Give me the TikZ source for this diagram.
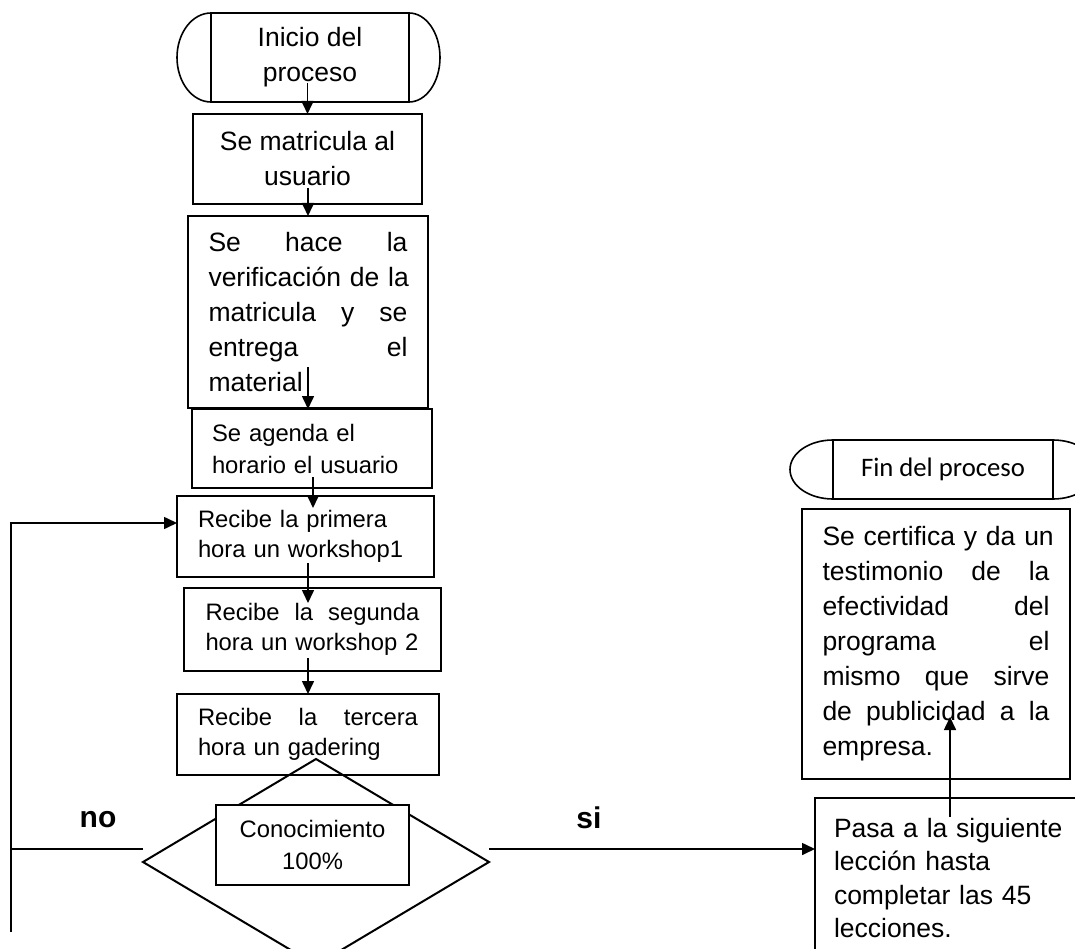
\documentclass[tikz,border=0pt]{standalone}
\usepackage{fontspec}
\setmainfont{Liberation Sans}
\newfontfamily\calibri{Carlito}
\usepackage{tikz}
\usetikzlibrary{arrows.meta,shapes.geometric}

\begin{document}
\begin{tikzpicture}[x=1pt, y=1pt,
	box/.style={draw, line width=2pt, inner sep=0pt, outer sep=0pt, fill=white},
	bigtxt/.style={font=\fontsize{26.5}{35}\selectfont},
	midtxt/.style={font=\fontsize{23.8}{30}\selectfont},
	lbl/.style={font=\fontsize{30}{36}\selectfont\bfseries},
	arr/.style={line width=1.6pt, -{Triangle[length=13pt,width=12pt]}}]
	\useasboundingbox (0,0) rectangle (1075,-949);
	\fill[white] (0,0) rectangle (1075,-949);
	\clip (0,0) rectangle (1075,-949);
	% inicio
	\node[box, bigtxt, align=center, minimum width=198, minimum height=89] (inicio) at (310,-57.5) {Inicio del\\proceso};
	\draw[line width=1.6pt] (inicio.north west) arc[start angle=90, end angle=270, x radius=34, y radius=44.5];
	\draw[line width=1.6pt] (inicio.north east) arc[start angle=90, end angle=-90, x radius=31, y radius=44.5];
	% main column
	\node[box, bigtxt, align=center, minimum width=229, minimum height=90] (matricula) at (307.5,-159) {Se matricula al\\usuario};
	\node[box, bigtxt, align=left, text width=199, minimum width=240, minimum height=192] (verif) at (308,-312)
		{Se\hfill hace\hfill la\\\mbox{verificación de la}\\matricula\hfill y\hfill se\\entrega\hfill el\\material};
	\node[box, font=\fontsize{23.8}{32}\selectfont, align=left, text width=200, minimum width=240, minimum height=79] (agenda) at (312,-448.5) {Se agenda el\\horario el usuario};
	\node[box, midtxt, align=left, text width=215, minimum width=257, minimum height=81] (primera) at (305.5,-536.5) {Recibe la primera\\hora un workshop1};
	\node[box, midtxt, align=left, text width=214, minimum width=257, minimum height=83] (segunda) at (312.5,-629.5) {Recibe\hfill la\hfill segunda\\hora un workshop 2};
	\node[box, midtxt, align=left, text width=220, minimum width=262, minimum height=81] (tercera) at (308,-734.5) {Recibe\hfill la\hfill tercera\\hora un gadering};
	% decision
	\node[diamond, draw, line width=2pt, inner sep=0pt, outer sep=0pt, minimum width=346, minimum height=206] (decision) at (316,-862) {};
	\node[box, font=\fontsize{23.8}{32}\selectfont, align=center, minimum width=193, minimum height=80] (conoc) at (312.5,-845) {Conocimiento\\100\%};
	% fin
	\node[box, font=\calibri\fontsize{26.7}{32}\selectfont, minimum width=220, minimum height=59] (fin) at (943,-469.5) {Fin del proceso};
	\draw[line width=1.6pt] (fin.north west) arc[start angle=90, end angle=270, x radius=43, y radius=29.5];
	\draw[line width=1.6pt] (fin.north east) arc[start angle=90, end angle=-90, x radius=43, y radius=29.5];
	\node[box, bigtxt, align=left, text width=227, minimum width=268, minimum height=270] (certifica) at (936,-644)
		{\mbox{Se certifica y da un}\\testimonio\hfill de\hfill la\\efectividad\hfill del\\programa\hfill el\\mismo\hfill que\hfill sirve\\de\hfill publicidad\hfill a\hfill la\\empresa.};
	\node[box, font=\fontsize{26.5}{33.5}\selectfont, align=left, text width=260, inner xsep=19pt, inner ysep=20pt, anchor=north west] (pasa) at (815,-798)
		{Pasa a la siguiente\\lección hasta\\completar las 45\\lecciones.};
	% arrows down the column
	\draw[arr] ([xshift=-2.5pt,yshift=19pt]inicio.south) -- (matricula.north);
	\draw[arr] ([xshift=0.5pt,yshift=16pt]matricula.south) -- (verif.north);
	\draw[arr] ([yshift=41pt]verif.south) -- ([xshift=-4pt]agenda.north);
	\draw[arr] ([xshift=1pt,yshift=11pt]agenda.south) -- ([xshift=7.5pt,yshift=-12pt]primera.north);
	\draw[arr] ([xshift=2.5pt,yshift=14pt]primera.south) -- ([xshift=-4.5pt,yshift=-15pt]segunda.north);
	\draw[arr] ([xshift=-4.5pt,yshift=13pt]segunda.south) -- (tercera.north);
	% no / si branches
	\coordinate (nostart) at ([yshift=13pt]decision.west);
	\coordinate (sistart) at ([yshift=13pt]decision.east);
	\coordinate (loopend) at (11,-932);
	\draw[line width=1.6pt] (nostart) -- (nostart -| loopend);
	\draw[arr] (loopend) |- ([yshift=13.5pt]primera.west);
	\draw[arr] (sistart) -- (sistart -| pasa.west);
	\draw[arr] ([xshift=135pt,yshift=-19pt]pasa.north west) -- ([xshift=14pt,yshift=62pt]certifica.south);
	\node[lbl] (nolbl) at (98,-820) {no};
	\node[lbl] (silbl) at (589,-818) {si};
\end{tikzpicture}
\end{document}
